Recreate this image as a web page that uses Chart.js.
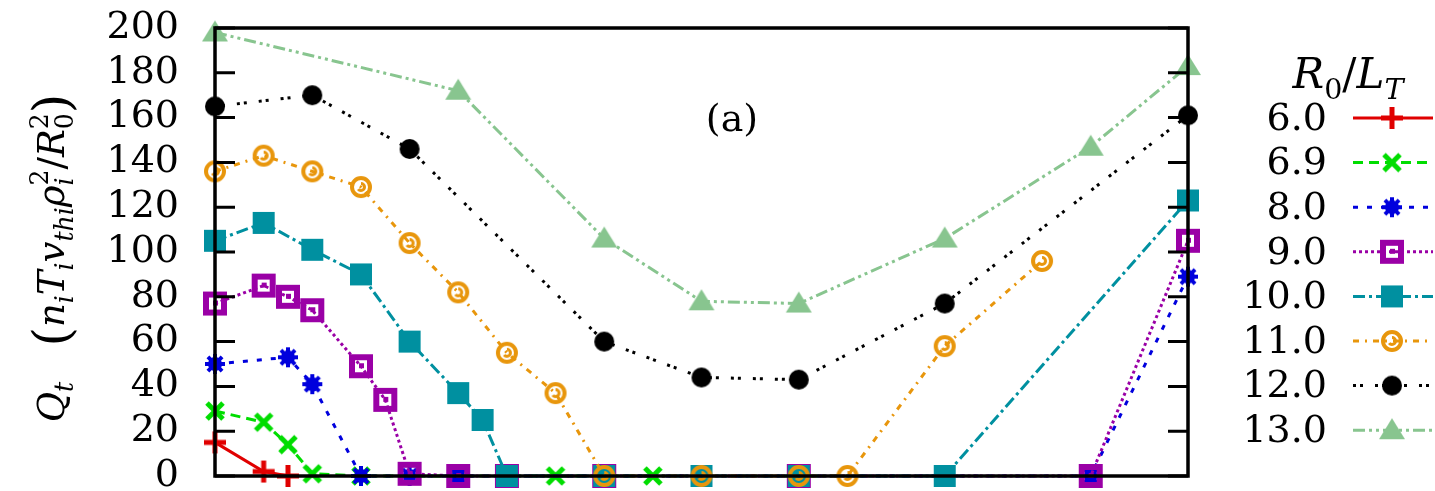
<!DOCTYPE html>
<html lang="en">
<head>
    <meta charset="UTF-8">
    <title>Q_t vs R0/LT</title>
    <script src="https://cdn.jsdelivr.net/npm/chart.js@4.4.0/dist/chart.umd.min.js"></script>
    <style>
        body { margin: 0; background: #fff; }
        #chart { display: block; }
    </style>
</head>
<body>
    <canvas id="chart" width="1435" height="491"></canvas>
    <script>
        // R0/LT values shown in the legend
        const gradients = ["6.0", "6.9", "8.0", "9.0", "10.0", "11.0", "12.0", "13.0"];
        const yTicks = [0, 20, 40, 60, 80, 100, 120, 140, 160, 180, 200];

        // x positions (axis has no labels, plotted on 0..1) and Q_t values per series
        const x60 = [0, 0.05, 0.075];
        const q60 = [15, 2, 0];
        const x69 = [0, 0.05, 0.075, 0.1, 0.15, 0.25, 0.35, 0.45];
        const q69 = [29, 24, 14, 1, 0, 0, 0, 0];
        const x80 = [0, 0.075, 0.1, 0.15, 0.2, 0.25, 0.9, 1.0];
        const q80 = [50, 53, 41, 0, 0, 0, 0, 89];
        const x90 = [0, 0.05, 0.075, 0.1, 0.15, 0.175, 0.2, 0.25, 0.3, 0.4, 0.6, 0.9, 1.0];
        const q90 = [77, 85, 80, 74, 49, 34, 1, 0, 0, 0, 0, 0, 105];
        const x100 = [0, 0.05, 0.1, 0.15, 0.2, 0.25, 0.275, 0.3, 0.4, 0.5, 0.6, 0.75, 1.0];
        const q100 = [105, 113, 101, 90, 60, 37, 25, 0, 0, 0, 0, 0, 123];
        const x110 = [0, 0.05, 0.1, 0.15, 0.2, 0.25, 0.3, 0.35, 0.4, 0.5, 0.6, 0.65, 0.75, 0.85];
        const q110 = [136, 143, 136, 129, 104, 82, 55, 37, 0, 0, 0, 0, 58, 96];
        const x120 = [0, 0.1, 0.2, 0.4, 0.5, 0.6, 0.75, 1.0];
        const q120 = [165, 170, 146, 60, 44, 43, 77, 161];
        const x130 = [0, 0.25, 0.4, 0.5, 0.6, 0.75, 0.9, 1.0];
        const q130 = [198, 172, 106, 78, 77, 106, 147, 183];

        const xs = [x60, x69, x80, x90, x100, x110, x120, x130];
        const qs = [q60, q69, q80, q90, q100, q110, q120, q130];
        const colors = ["#e00000", "#00dd00", "#0000dd", "#9a00a6", "#0090a0", "#e8960c", "#000000", "#88c58f"];
        const dashes = [[], [10, 6], [5, 9], [3, 3], [12, 4, 3, 4], [6, 6, 2, 6], [3, 4, 3, 12], [12, 4, 3, 4, 3, 4]];
        const kinds = ["plus", "x", "star", "boxdot", "box", "ringdot", "disc", "tri"];

        const SERIF = '"DejaVu Serif", "Liberation Serif", serif';

        // marker glyphs drawn on small canvases
        function marker(kind, color) {
            const S = 30;
            const c = document.createElement("canvas");
            c.width = c.height = S;
            const g = c.getContext("2d");
            g.translate(S / 2, S / 2);
            g.fillStyle = color;
            g.strokeStyle = color;
            if (kind === "plus") {
                g.fillRect(-2.5, -11, 5, 22);
                g.fillRect(-11, -2.5, 22, 5);
            } else if (kind === "x") {
                g.lineWidth = 5;
                g.beginPath();
                g.moveTo(-8, -8); g.lineTo(8, 8);
                g.moveTo(8, -8); g.lineTo(-8, 8);
                g.stroke();
            } else if (kind === "star") {
                g.lineWidth = 4;
                g.beginPath();
                for (let a = 0; a < 4; a++) {
                    const t = a * Math.PI / 4;
                    g.moveTo(-10 * Math.cos(t), -10 * Math.sin(t));
                    g.lineTo(10 * Math.cos(t), 10 * Math.sin(t));
                }
                g.stroke();
                g.beginPath(); g.arc(0, 0, 7, 0, Math.PI * 2); g.fill();
            } else if (kind === "boxdot") {
                g.fillRect(-12, -12, 24, 24);
                g.clearRect(-6, -6, 12, 12);
                g.fillRect(-2, -3, 5, 5);
            } else if (kind === "box") {
                g.fillRect(-11, -11, 22, 22);
            } else if (kind === "ringdot") {
                g.lineWidth = 4;
                g.beginPath(); g.arc(0, 0, 9, 0, Math.PI * 2); g.stroke();
                g.lineWidth = 3;
                g.beginPath(); g.arc(0, 0, 3.5, -Math.PI / 2, Math.PI * 0.8); g.stroke();
            } else if (kind === "disc") {
                g.beginPath(); g.arc(0, 0, 10, 0, Math.PI * 2); g.fill();
            } else if (kind === "tri") {
                g.beginPath(); g.moveTo(0, -12); g.lineTo(13, 9); g.lineTo(-13, 9); g.closePath(); g.fill();
            }
            return c;
        }
        const markers = kinds.map((k, i) => marker(k, colors[i]));

        // text with sub/superscripts
        function rich(ctx, parts, x, y, size, draw) {
            let cx = x;
            for (const p of parts) {
                const fs = size * (p.sz || 1);
                ctx.font = (p.it ? "italic " : "") + fs + "px " + SERIF;
                const w = ctx.measureText(p.t).width;
                if (draw) ctx.fillText(p.t, cx, y + (p.dy || 0));
                cx += w;
                let extra = 0;
                const small = size * 0.68;
                if (p.sub) {
                    ctx.font = (/[a-z]/i.test(p.sub) ? "italic " : "") + small + "px " + SERIF;
                    if (draw) ctx.fillText(p.sub, cx, y + size * 0.25);
                    extra = ctx.measureText(p.sub).width;
                }
                if (p.sup) {
                    ctx.font = small + "px " + SERIF;
                    if (draw) ctx.fillText(p.sup, cx, y - size * 0.42);
                    extra = Math.max(extra, ctx.measureText(p.sup).width);
                }
                cx += extra;
            }
            return cx - x;
        }

        const yTitle = [
            { t: "Q", it: 1, sub: "t" }, { t: "   " }, { t: "(", sz: 1.35, dy: 5 },
            { t: "n", it: 1, sub: "i" }, { t: "T", it: 1, sub: "i" }, { t: "v", it: 1, sub: "thi" },
            { t: "ρ", it: 1, sub: "i", sup: "2" }, { t: "/" }, { t: "R", it: 1, sub: "0", sup: "2" },
            { t: ")", sz: 1.35, dy: 5 }
        ];
        const legTitle = [{ t: "R", it: 1, sub: "0" }, { t: "/" }, { t: "L", it: 1, sub: "T" }];

        const decor = {
            id: "decor",
            afterDraw(chart) {
                const ctx = chart.ctx;
                const a = chart.chartArea;
                const ys = chart.scales.y;
                ctx.save();
                ctx.strokeStyle = "#000";
                ctx.lineWidth = 3.5;
                ctx.strokeRect(a.left, a.top, a.right - a.left, a.bottom - a.top);
                ctx.beginPath();
                yTicks.forEach(v => {
                    const py = ys.getPixelForValue(v);
                    ctx.moveTo(a.left, py); ctx.lineTo(a.left + 20, py);
                    ctx.moveTo(a.right, py); ctx.lineTo(a.right - 20, py);
                });
                ctx.lineWidth = 3;
                ctx.stroke();

                ctx.fillStyle = "#000";
                ctx.textBaseline = "alphabetic";
                ctx.font = "38px " + SERIF;
                ctx.textAlign = "center";
                ctx.fillText("(a)", 732, 131);
                ctx.textAlign = "left";

                // y axis title
                ctx.save();
                ctx.translate(52, 258);
                ctx.rotate(-Math.PI / 2);
                const tw = rich(ctx, yTitle, 0, 0, 37, false);
                rich(ctx, yTitle, -tw / 2, 12, 37, true);
                ctx.restore();

                // legend
                const lw = rich(ctx, legTitle, 0, 0, 42, false);
                rich(ctx, legTitle, 1348 - lw / 2, 88, 42, true);
                chart.data.datasets.forEach((ds, i) => {
                    const ly = 118 + i * 44.6;
                    ctx.font = "38px " + SERIF;
                    ctx.textAlign = "right";
                    ctx.textBaseline = "middle";
                    ctx.fillText(gradients[i], 1327, ly + 2);
                    ctx.beginPath();
                    ctx.setLineDash(ds.borderDash);
                    ctx.strokeStyle = ds.borderColor;
                    ctx.lineWidth = 3;
                    ctx.moveTo(1353, ly); ctx.lineTo(1433, ly);
                    ctx.stroke();
                    ctx.setLineDash([]);
                    const m = markers[i];
                    ctx.drawImage(m, 1392 - m.width / 2, ly - m.height / 2);
                });
                ctx.restore();
            }
        };

        const datasets = gradients.map((g, i) => ({
            label: g,
            data: xs[i].map((x, j) => ({ x: x, y: qs[i][j] })),
            borderColor: colors[i],
            backgroundColor: colors[i],
            borderWidth: 3,
            borderDash: dashes[i],
            pointStyle: markers[i],
            pointRadius: 12,
            tension: 0,
            clip: false,
            order: 7 - i
        }));

        new Chart(document.getElementById("chart").getContext("2d"), {
            type: "line",
            data: { datasets: datasets },
            options: {
                responsive: false,
                animation: false,
                layout: { padding: { left: 0, right: 247, top: 28, bottom: 11 } },
                plugins: { legend: { display: false }, tooltip: { enabled: false } },
                scales: {
                    x: { type: "linear", min: 0, max: 1, display: false },
                    y: {
                        min: 0, max: 200,
                        grid: { display: false },
                        border: { display: false },
                        afterFit(s) { s.width = 215; s.paddingTop = 0; s.paddingBottom = 0; },
                        ticks: {
                            stepSize: 20, padding: 28, color: "#000", autoSkip: false,
                            font: { family: SERIF, size: 38 }
                        }
                    }
                }
            },
            plugins: [decor]
        });
    </script>
</body>
</html>
